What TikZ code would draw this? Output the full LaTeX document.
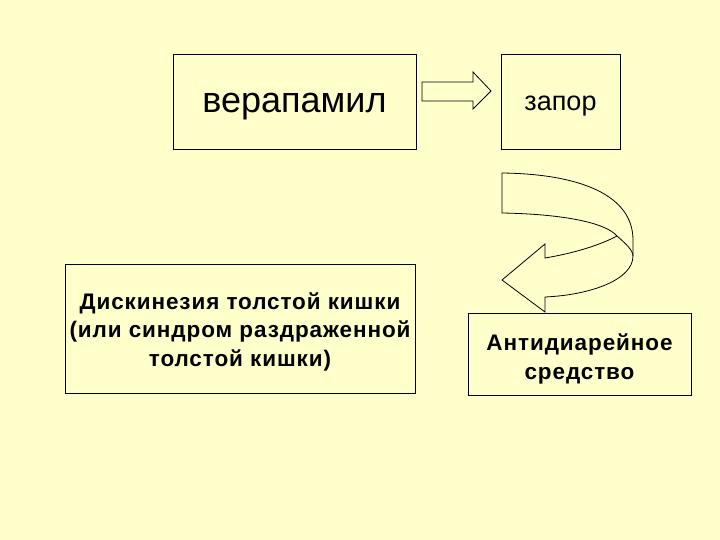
\documentclass[tikz,border=0pt]{standalone}
\usepackage{fontspec}
\setmainfont{Liberation Sans}
\usepackage{tikz}
\definecolor{slidebg}{HTML}{FFFFCC}
\tikzset{
  box/.style={draw,line width=0.8pt,fill=slidebg,inner sep=0pt},
  bigtext/.style={font=\fontsize{36}{40}\selectfont,yshift=-5pt},
  midtext/.style={font=\fontsize{27}{30}\selectfont,yshift=-5pt},
  boldtext/.style={font=\fontsize{22.5}{28.5}\selectfont\bfseries\addfontfeature{LetterSpace=4},
    align=center},
  shapeline/.style={draw,line width=0.8pt,line join=miter}
}

\begin{document}
\begin{tikzpicture}[x=1pt,y=-1pt]
  \fill[slidebg] (0,0) rectangle (720,540);
  \useasboundingbox (0,0) rectangle (720,540);
  % top row
  \node[box,minimum width=243pt,minimum height=95pt,
    label={[bigtext]center:верапамил}] (verap) at (294.5,101.5) {};
  \node[box,minimum width=119pt,minimum height=95pt,
    label={[midtext]center:запор}] (zapor) at (560.5,101.5) {};
  % bottom row
  \node[box,minimum width=350pt,minimum height=129pt,
    label={[boldtext,yshift=-3pt]center:Дискинезия толстой кишки\\(или синдром раздраженной\\толстой кишки)}]
    (diskin) at (240,328.5) {};
  \node[box,minimum width=223pt,minimum height=82pt,
    label={[boldtext,yshift=-5pt]center:Антидиарейное\\средство}]
    (antidiar) at (579.5,354) {};
  % block arrow
  \draw[shapeline] (422,82) -- (473,82) -- (473,72) -- (491,91) -- (473,109)
    -- (473,101) -- (422,101) -- cycle;
  % curved arrow
  \draw[shapeline] (502,173) .. controls (580,174) and (633,195) .. (633,240)
    -- (633,256) .. controls (633,280) and (590,295) .. (545,297)
    -- (545,312) -- (502,280) -- (545,244) -- (545,258)
    .. controls (575,253) and (600,245) .. (617,236);
  \draw[shapeline] (502,173) -- (502,213)
    .. controls (560,214) and (605,222) .. (617,236)
    .. controls (625,243) and (633,250) .. (633,256);
\end{tikzpicture}
\end{document}
